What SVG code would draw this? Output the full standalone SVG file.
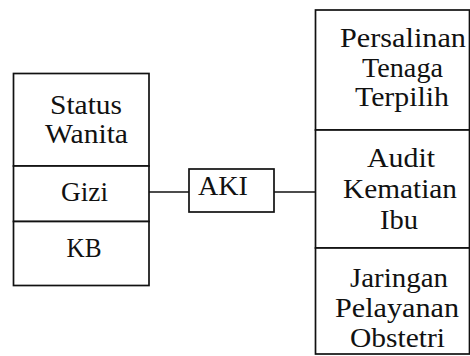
<svg xmlns="http://www.w3.org/2000/svg" width="470" height="356" viewBox="0 0 470 356">
<style>
.box{fill:#fff;stroke:#111;stroke-width:1.7}
.lbl{font-family:"Liberation Serif","Times New Roman",serif;font-size:27.5px;fill:#111;text-anchor:middle}
.con{stroke:#111;stroke-width:1.7;fill:none}
</style>
<rect width="470" height="356" fill="#fff"/>
<g id="connectors">
<line class="con" x1="149" y1="192" x2="189" y2="192"/>
<line class="con" x1="274" y1="192" x2="315" y2="192"/>
</g>
<g id="node-status">
<rect class="box" x="13.5" y="73.5" width="135.5" height="92.5"/>
<text class="lbl" x="86" y="114" textLength="72" lengthAdjust="spacingAndGlyphs">Status</text>
<text class="lbl" x="86.5" y="143" textLength="83" lengthAdjust="spacingAndGlyphs">Wanita</text>
</g>
<g id="node-gizi">
<rect class="box" x="13.5" y="166" width="135.5" height="55.5"/>
<text class="lbl" x="84.5" y="201" textLength="47" lengthAdjust="spacingAndGlyphs">Gizi</text>
</g>
<g id="node-kb">
<rect class="box" x="13.5" y="221.5" width="135.5" height="64"/>
<text class="lbl" x="84" y="257" textLength="35" lengthAdjust="spacingAndGlyphs">KB</text>
</g>
<g id="node-aki">
<rect class="box" x="189" y="169" width="85" height="43"/>
<text class="lbl" x="223" y="195" textLength="50" lengthAdjust="spacingAndGlyphs">AKI</text>
</g>
<g id="node-persalinan">
<rect class="box" x="315.5" y="10" width="154" height="120"/>
<text class="lbl" x="403" y="47" textLength="126" lengthAdjust="spacingAndGlyphs">Persalinan</text>
<text class="lbl" x="402.5" y="77" textLength="81" lengthAdjust="spacingAndGlyphs">Tenaga</text>
<text class="lbl" x="402" y="106" textLength="94" lengthAdjust="spacingAndGlyphs">Terpilih</text>
</g>
<g id="node-audit">
<rect class="box" x="315.5" y="130" width="154" height="118"/>
<text class="lbl" x="401" y="167" textLength="68" lengthAdjust="spacingAndGlyphs">Audit</text>
<text class="lbl" x="400" y="198" textLength="114" lengthAdjust="spacingAndGlyphs">Kematian</text>
<text class="lbl" x="399" y="229" textLength="38" lengthAdjust="spacingAndGlyphs">Ibu</text>
</g>
<g id="node-jaringan">
<rect class="box" x="315.5" y="248" width="154" height="106"/>
<text class="lbl" x="399" y="287" textLength="98" lengthAdjust="spacingAndGlyphs">Jaringan</text>
<text class="lbl" x="397" y="317" textLength="124" lengthAdjust="spacingAndGlyphs">Pelayanan</text>
<text class="lbl" x="397.5" y="347" textLength="95" lengthAdjust="spacingAndGlyphs">Obstetri</text>
</g>
</svg>
